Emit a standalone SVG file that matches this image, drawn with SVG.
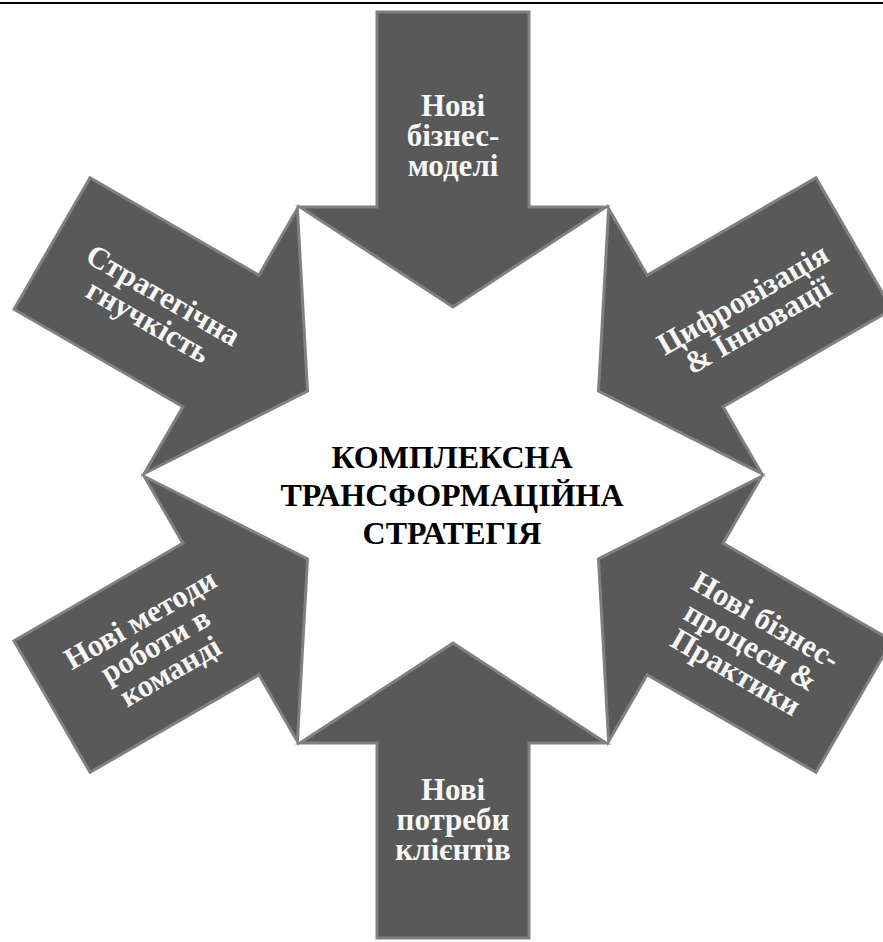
<svg xmlns="http://www.w3.org/2000/svg" xmlns:xlink="http://www.w3.org/1999/xlink" width="883" height="942" viewBox="0 0 883 942">
<style>
.arr{fill:#595959;stroke:#808080;stroke-width:3;stroke-linejoin:miter}
.lbl{font-family:"Liberation Serif","Times New Roman",serif;font-weight:bold;font-size:31px;fill:#f7f7f7;text-anchor:middle}
.ctr{font-family:"Liberation Serif","Times New Roman",serif;font-weight:bold;font-size:32px;fill:#000;text-anchor:middle}
</style>
<defs>
<polygon id="arrow" points="377,12 529,12 529,207 606,207 453,307 300,207 377,207"/>
</defs>
<rect width="883" height="942" fill="#fff"/>
<line x1="0" y1="3" x2="883" y2="3" stroke="#000" stroke-width="2"/>
<g id="top">
<use xlink:href="#arrow" class="arr"/>
<g transform="translate(453,135.5)"><text class="lbl"><tspan x="0" y="-19.5">Нові</tspan><tspan x="0" y="10.5">бізнес-</tspan><tspan x="0" y="40.5">моделі</tspan></text></g>
</g>
<g id="upper-right">
<use xlink:href="#arrow" class="arr" transform="rotate(60 453 475)"/>
<g transform="translate(750,312) rotate(-30)"><text class="lbl"><tspan x="0" y="-4.5">Цифровізація</tspan><tspan x="0" y="25.5">&amp; Інновації</tspan></text></g>
</g>
<g id="lower-right">
<use xlink:href="#arrow" class="arr" transform="rotate(120 453 475)"/>
<g transform="translate(751,646) rotate(30)"><text class="lbl"><tspan x="0" y="-19.5">Нові бізнес-</tspan><tspan x="0" y="10.5">процеси &amp;</tspan><tspan x="0" y="40.5">Практики</tspan></text></g>
</g>
<g id="bottom">
<use xlink:href="#arrow" class="arr" transform="rotate(180 453 475)"/>
<g transform="translate(453,819)"><text class="lbl"><tspan x="0" y="-19.5">Нові</tspan><tspan x="0" y="10.5">потреби</tspan><tspan x="0" y="40.5">клієнтів</tspan></text></g>
</g>
<g id="lower-left">
<use xlink:href="#arrow" class="arr" transform="rotate(240 453 475)"/>
<g transform="translate(155,645) rotate(-30)"><text class="lbl"><tspan x="0" y="-19.5">Нові методи</tspan><tspan x="0" y="10.5">роботи в</tspan><tspan x="0" y="40.5">команді</tspan></text></g>
</g>
<g id="upper-left">
<use xlink:href="#arrow" class="arr" transform="rotate(300 453 475)"/>
<g transform="translate(156,308) rotate(30)"><text class="lbl"><tspan x="0" y="-4.5">Стратегічна</tspan><tspan x="0" y="25.5">гнучкість</tspan></text></g>
</g>
<g id="center">
<text class="ctr"><tspan x="452" y="468">КОМПЛЕКСНА</tspan><tspan x="452" y="506">ТРАНСФОРМАЦІЙНА</tspan><tspan x="452" y="544">СТРАТЕГІЯ</tspan></text>
</g>
</svg>
